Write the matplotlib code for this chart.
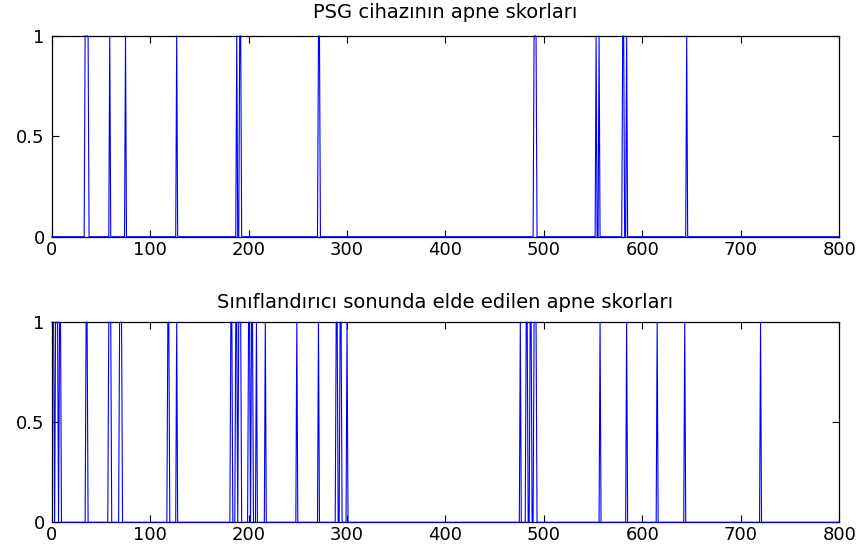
import numpy as np
import matplotlib
matplotlib.use("Agg")
import matplotlib.pyplot as plt

plt.rcParams['font.family'] = ['DejaVu Sans']

# epoch indices scored as apnea (value 1), everything else is 0
n_epochs = 801
psg_epochs = [34, 35, 36, 37, 59, 75, 127, 188, 191, 192, 271, 272,
              490, 491, 492, 553, 556, 580, 581, 584, 645]
clf_epochs = [0, 1, 2, 4, 5, 6, 8, 9, 35, 36, 58, 59, 60, 69, 70, 71,
              118, 119, 127, 182, 183, 187, 188, 190, 191, 192,
              200, 201, 203, 204, 208, 217, 249, 271, 289, 290, 293, 294, 300,
              476, 482, 483, 486, 487, 490, 491, 492,
              557, 584, 615, 643, 720]

titles = ["PSG cihazının apne skorları",
          "Sınıflandırıcı sonunda elde edilen apne skorları"]
xticks = [0, 100, 200, 300, 400, 500, 600, 700, 800]
yticks = [0, 0.5, 1]
ytick_labels = ["0", "0.5", "1"]

fig = plt.figure(figsize=(8.61, 5.51), dpi=100)
ax1 = fig.add_axes([0.060, 0.5704, 0.9148, 0.3642])
ax2 = fig.add_axes([0.060, 0.0521, 0.9148, 0.3630])

t = np.arange(n_epochs)
for ax, epochs, title, tpad in zip([ax1, ax2], [psg_epochs, clf_epochs],
                                   titles, [13, 10.5]):
    score = np.zeros(n_epochs)
    score[epochs] = 1
    ax.plot(t, score, color='#0000ff', lw=0.8, zorder=3, clip_on=False)
    ax.set_xlim(0, 800)
    ax.set_ylim(0, 1)
    ax.set_xticks(xticks)
    ax.set_yticks(yticks)
    ax.set_yticklabels(ytick_labels)
    ax.tick_params(direction='in', length=5, width=0.8, labelsize=13,
                   top=True, right=True)
    ax.tick_params(axis='x', pad=3)
    ax.tick_params(axis='y', pad=5)
    for s in ax.spines.values():
        s.set_linewidth(0.9)
    ax.set_title(title, fontsize=14, pad=tpad)

fig.savefig("out.png", dpi=100)
